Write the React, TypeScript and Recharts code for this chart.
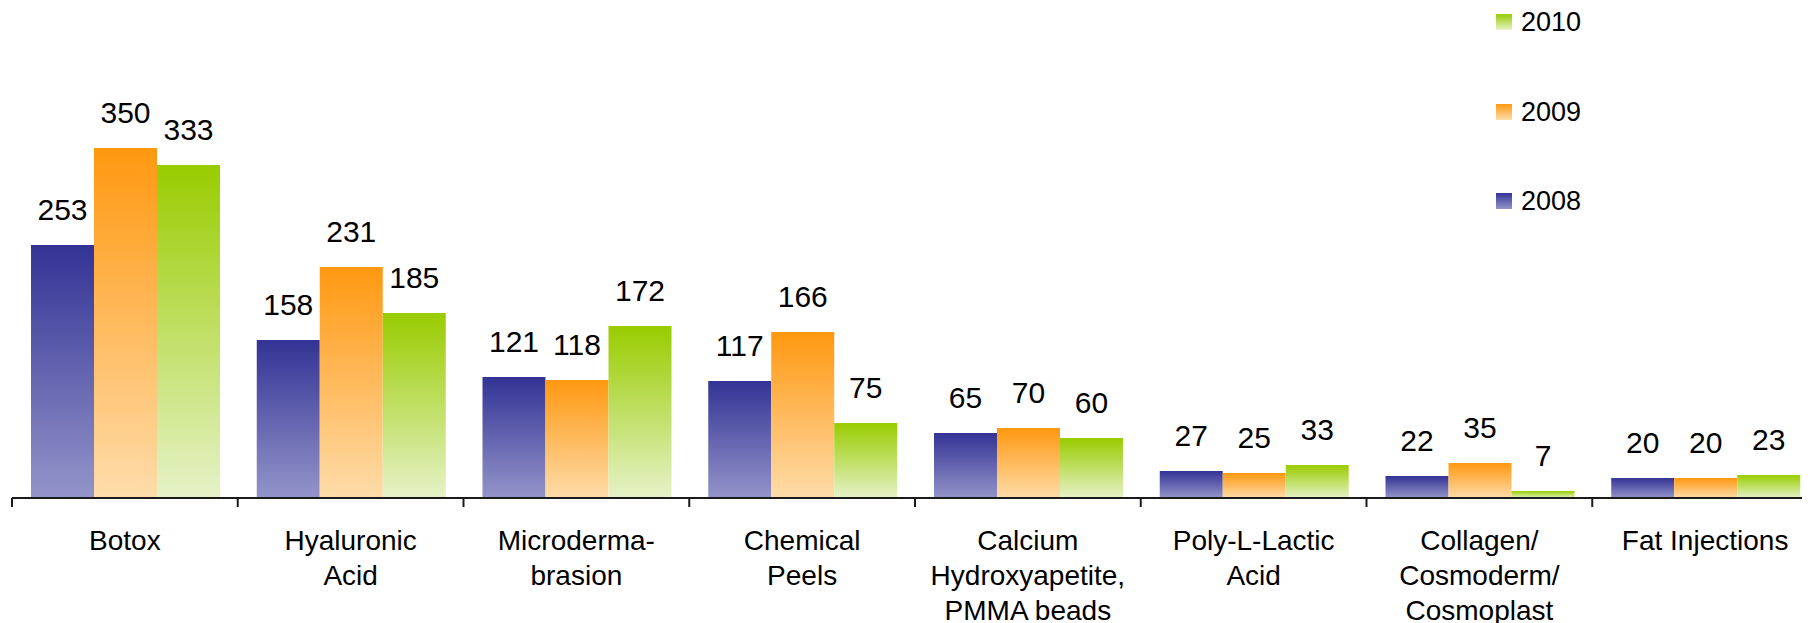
import React from 'react';
import { BarChart, Bar, XAxis, YAxis, Legend, LabelList } from 'recharts';

const categories = [
  'Botox',
  'Hyaluronic\nAcid',
  'Microderma-\nbrasion',
  'Chemical\nPeels',
  'Calcium\nHydroxyapetite,\nPMMA beads',
  'Poly-L-Lactic\nAcid',
  'Collagen/\nCosmoderm/\nCosmoplast',
  'Fat Injections',
];
const years = ['2008', '2009', '2010'];
const values2008 = [253, 158, 121, 117, 65, 27, 22, 20];
const values2009 = [350, 231, 118, 166, 70, 25, 35, 20];
const values2010 = [333, 185, 172, 75, 60, 33, 7, 23];
const seriesValues = [values2008, values2009, values2010];
const topColors = ['#333395', '#FF9810', '#99CC00'];
const bottomColors = ['#9494CA', '#FEDCAA', '#E6F2C8'];

const FONT = '"Liberation Sans", Arial, Helvetica, sans-serif';
const CHART_W = 1810;
const CHART_H = 615;
const MARGIN = { top: 40, right: 0, bottom: 0, left: 4 };
const PLOT_W = CHART_W - MARGIN.left - MARGIN.right;
const BAND = PLOT_W / categories.length;

const data = categories.map((name, i) => {
  const row: any = { name };
  years.forEach((y, s) => {
    row['y' + y] = seriesValues[s][i];
  });
  return row;
});

const CategoryTick = (props: any) => {
  const { x, y, payload } = props;
  const lines = String(payload.value).split('\n');
  const left = x - BAND / 2;
  return (
    <g>
      <line x1={left} y1={y} x2={left} y2={y + 9} stroke="#1a1a1a" strokeWidth={2} />
      <text x={x} y={y + 52} textAnchor="middle" fontSize={28} fill="#000" fontFamily={FONT}>
        {lines.map((l, i) => (
          <tspan key={i} x={x} dy={i === 0 ? 0 : 35}>
            {l}
          </tspan>
        ))}
      </text>
    </g>
  );
};

const ValueLabel = (props: any) => {
  const { x, y, width, value } = props;
  return (
    <text
      x={Number(x) + Number(width) / 2}
      y={Number(y) - 25}
      textAnchor="middle"
      fontSize={30}
      fill="#000"
      fontFamily={FONT}
    >
      {value}
    </text>
  );
};

const renderLegend = (props: any) => {
  const items = [...(props.payload || [])].reverse();
  return (
    <div style={{ display: 'flex', flexDirection: 'column', gap: 59.7, fontFamily: FONT }}>
      {items.map((it: any) => {
        const idx = years.indexOf(String(it.value));
        return (
          <div key={it.value} style={{ display: 'flex', alignItems: 'center', height: 30 }}>
            <div
              style={{
                width: 16,
                height: 16,
                marginRight: 9,
                background: `linear-gradient(to bottom, ${topColors[idx]}, ${bottomColors[idx]})`,
              }}
            />
            <span style={{ fontSize: 27, lineHeight: '30px', color: '#000' }}>{it.value}</span>
          </div>
        );
      })}
    </div>
  );
};

export default function App() {
  return (
    <div style={{ width: 1802, height: 615, overflow: 'hidden', position: 'relative' }}>
      <style>{'html,body{overflow:hidden;}'}</style>
      <BarChart
        width={CHART_W}
        height={CHART_H}
        data={data}
        margin={MARGIN}
        barCategoryGap={19}
        barGap={0}
      >
        <defs>
          {years.map((y, i) => (
            <linearGradient key={y} id={`grad${i}`} x1="0" y1="0" x2="0" y2="1">
              <stop offset="0%" stopColor={topColors[i]} />
              <stop offset="100%" stopColor={bottomColors[i]} />
            </linearGradient>
          ))}
        </defs>
        <YAxis hide domain={[0, 450]} />
        <XAxis
          dataKey="name"
          interval={0}
          height={125}
          tickLine={false}
          tickSize={0}
          tickMargin={0}
          axisLine={{ stroke: '#1a1a1a', strokeWidth: 2 }}
          tick={<CategoryTick />}
        />
        <Legend
          layout="vertical"
          align="center"
          verticalAlign="middle"
          content={renderLegend}
          wrapperStyle={{ left: 1488, top: -1, right: 'auto', bottom: 'auto', width: 200 }}
        />
        {years.map((y, i) => (
          <Bar key={y} dataKey={'y' + y} name={y} fill={`url(#grad${i})`} isAnimationActive={false}>
            <LabelList dataKey={'y' + y} content={<ValueLabel />} />
          </Bar>
        ))}
      </BarChart>
    </div>
  );
}
